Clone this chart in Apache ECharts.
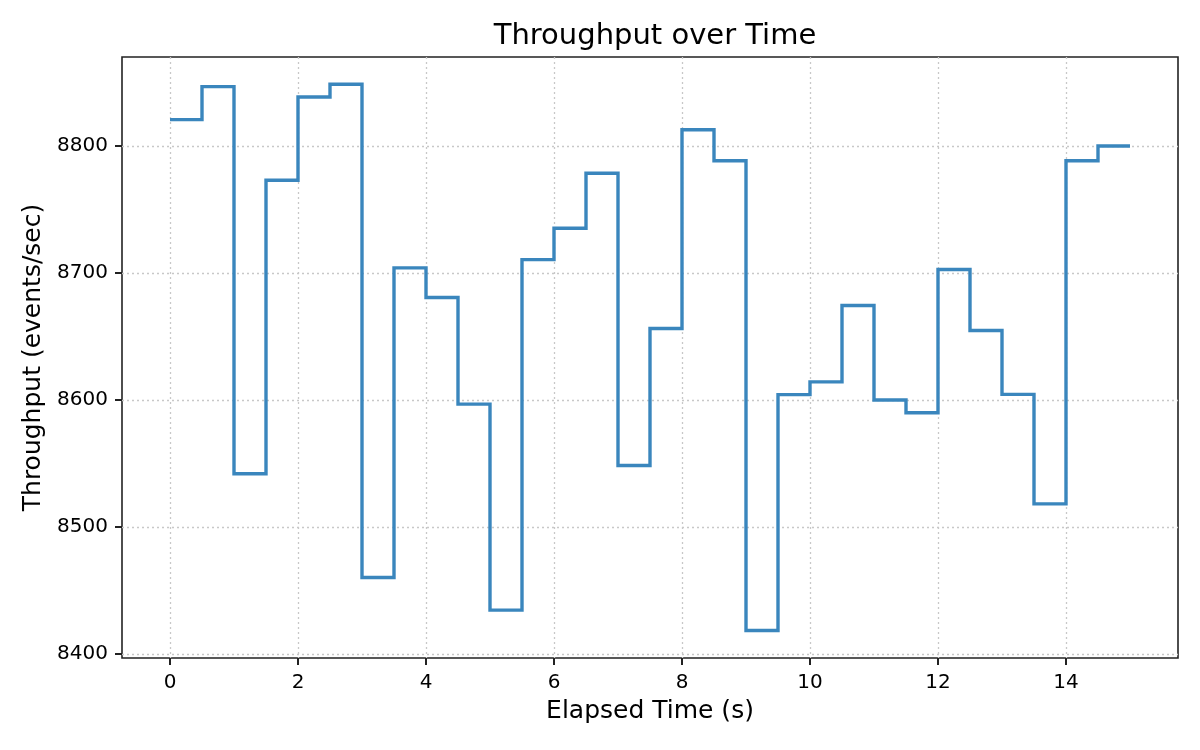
<!DOCTYPE html>
<html>
<head>
<meta charset="UTF-8">
<style>
	html, body { margin: 0; padding: 0; background: #fff; }
	#chart { width: 1200px; height: 750px; }
</style>
</head>
<body>
	<div id="chart"></div>
	<script src="https://cdn.jsdelivr.net/npm/echarts@6/dist/echarts.min.js"></script>
<script>
	// elapsed time (s) and throughput (events/sec)
	var times = [0, 0.5, 1, 1.5, 2, 2.5, 3, 3.5, 4, 4.5, 5, 5.5, 6, 6.5, 7, 7.5,
		8, 8.5, 9, 9.5, 10, 10.5, 11, 11.5, 12, 12.5, 13, 13.5, 14, 14.5, 15];
	var throughput = [8820.7, 8846.7, 8542, 8773, 8838.5, 8848.5, 8460.3, 8704, 8680.7, 8596.8,
		8434.7, 8710.5, 8735.2, 8778.5, 8548.5, 8656.3, 8812.7, 8788.4, 8418.6, 8604.3,
		8614.3, 8674.4, 8600, 8590, 8702.7, 8654.7, 8604.5, 8518.3, 8788.4, 8800, 8800];
	var xTicks = [0, 2, 4, 6, 8, 10, 12, 14];
	var yTicks = [8400, 8500, 8600, 8700, 8800];

	var font = 'DejaVu Sans';
	var points = [];
	for (var i = 0; i < times.length; i++) {
		points.push([times[i], throughput[i]]);
	}

	function plain(v) {
		return String(v);
	}

	var myChart = echarts.init(document.getElementById('chart'));
	myChart.setOption({
		animation : false,
		title : {
			text : 'Throughput over Time',
			left : 650,
			textAlign : 'center',
			top : 17,
			textStyle : {
				fontFamily : font,
				fontSize : 29,
				fontWeight : 'normal',
				color : '#000'
			}
		},
		grid : {
			left : 122,
			right : 22,
			top : 57,
			bottom : 92,
			show : true,
			borderColor : '#222',
			borderWidth : 1.6,
			backgroundColor : '#fff'
		},
		xAxis : {
			type : 'value',
			min : -0.75,
			max : 15.75,
			name : 'Elapsed Time (s)',
			nameLocation : 'middle',
			nameGap : 41,
			nameTextStyle : { fontFamily : font, fontSize : 25, color : '#000' },
			axisLine : { show : false, onZero : false },
			axisTick : {
				show : true,
				length : 7,
				customValues : xTicks,
				lineStyle : { color : '#222', width : 2 }
			},
			axisLabel : {
				customValues : xTicks,
				formatter : plain,
				margin : 15,
				fontFamily : font,
				fontSize : 20,
				color : '#000'
			},
			splitLine : {
				show : true,
				lineStyle : { color : '#c8c8c8', type : [2, 3], width : 1.3 }
			}
		},
		yAxis : {
			type : 'value',
			min : 8397,
			max : 8870,
			name : 'Throughput (events/sec)',
			nameLocation : 'middle',
			nameRotate : 90,
			nameGap : 72,
			nameTextStyle : { fontFamily : font, fontSize : 25, color : '#000' },
			axisLine : { show : false, onZero : false },
			axisTick : {
				show : true,
				length : 7,
				customValues : yTicks,
				lineStyle : { color : '#222', width : 2 }
			},
			axisLabel : {
				customValues : yTicks,
				formatter : plain,
				margin : 14,
				fontFamily : font,
				fontSize : 20,
				color : '#000'
			},
			splitLine : {
				show : true,
				lineStyle : { color : '#c8c8c8', type : [2, 3], width : 1.3 }
			}
		},
		series : [ {
			type : 'line',
			step : 'end',
			data : points,
			showSymbol : false,
			lineStyle : { color : '#3a86bd', width : 3.4, join : 'miter' },
			itemStyle : { color : '#3a86bd' }
		} ]
	});
</script>
</body>
</html>
